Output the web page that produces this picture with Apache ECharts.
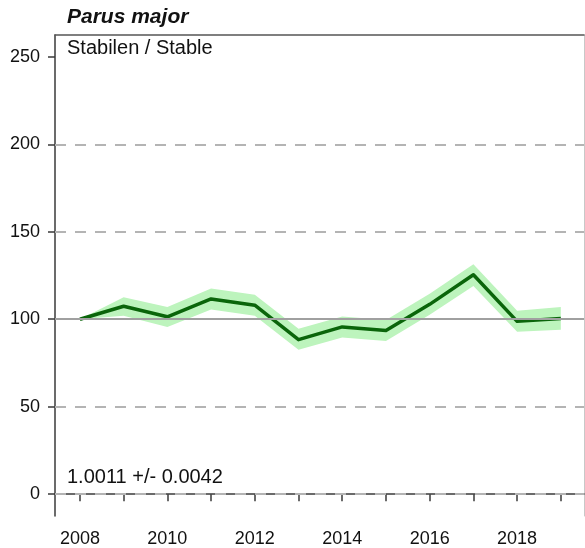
<!DOCTYPE html>
<html>
<head>
<meta charset="utf-8">
<script src="https://cdn.jsdelivr.net/npm/echarts@6/dist/echarts.min.js"></script>
<style>
html,body{margin:0;padding:0;background:#fff;}
#chart{width:585px;height:548px;}
</style>
</head>
<body>
<div id="chart"></div>
<script>
// ---- data ----
const years = [2008, 2009, 2010, 2011, 2012, 2013, 2014, 2015, 2016, 2017, 2018, 2019];
const indexValues = [100, 107.4, 101.4, 111.6, 108.0, 88.3, 95.6, 93.6, 108.5, 125.4, 98.8, 100.4];
const lowerValues = [100, 102.0, 95.5, 105.5, 102.0, 82.5, 89.5, 87.5, 102.5, 119.0, 92.8, 94.0];
const upperValues = [100, 112.5, 107.0, 117.5, 114.0, 94.5, 101.5, 99.5, 114.5, 131.5, 104.8, 107.0];
const xTickValues = [2008, 2009, 2010, 2011, 2012, 2013, 2014, 2015, 2016, 2017, 2018, 2019];
const xLabelValues = [2008, 2010, 2012, 2014, 2016, 2018];
const yTickValues = [0, 50, 100, 150, 200, 250];
const dashedLevels = [0, 50, 150, 200];
const baseLevel = 100;
const speciesTitle = 'Parus major';
const trendText = 'Stabilen / Stable';
const slopeText = '1.0011 +/- 0.0042';

const chart = echarts.init(document.getElementById('chart'), null, {renderer: 'canvas'});
const FONT = 'Liberation Sans, Arial, sans-serif';

const option = {
  animation: false,
  backgroundColor: '#fff',
  grid: {left: 55, top: 35, right: 1, bottom: 31, containLabel: false},
  xAxis: [{
    type: 'value', min: 2007.43, max: 2019.53, position: 'bottom',
    axisLine: {show: true, lineStyle: {color: '#3a3a3a', width: 1.5}},
    axisTick: {show: true, length: 7, customValues: xTickValues, lineStyle: {color: '#3a3a3a', width: 1.5}},
    axisLabel: {show: true, customValues: xLabelValues, margin: 14, color: '#111', fontSize: 18, fontFamily: FONT,
      formatter: v => String(v)},
    splitLine: {show: false}
  }, {
    type: 'value', min: 2007.43, max: 2019.53, position: 'top',
    axisLine: {show: true, onZero: false, lineStyle: {color: '#555', width: 1.5}},
    axisTick: {show: false}, axisLabel: {show: false}, splitLine: {show: false}
  }],
  yAxis: [{
    type: 'value', min: -12.5, max: 262.5, position: 'left',
    axisLine: {show: true, onZero: false, lineStyle: {color: '#3a3a3a', width: 1.5}},
    axisTick: {show: true, length: 7, customValues: yTickValues, lineStyle: {color: '#3a3a3a', width: 1.5}},
    axisLabel: {show: true, customValues: yTickValues, margin: 15, color: '#111', fontSize: 18, fontFamily: FONT},
    splitLine: {show: false}
  }, {
    type: 'value', min: -12.5, max: 262.5, position: 'right',
    axisLine: {show: true, onZero: false, lineStyle: {color: '#c8c8c8', width: 1}},
    axisTick: {show: false}, axisLabel: {show: false}, splitLine: {show: false}
  }],
  graphic: [
    {type: 'text', left: 67, top: 7, z: 100, style: {text: speciesTitle, fontSize: 21, fontWeight: 'bold', fontStyle: 'italic', fontFamily: FONT, fill: '#111'}},
    {type: 'text', left: 67, top: 38, z: 100, style: {text: trendText, fontSize: 20, fontFamily: FONT, fill: '#111'}},
    {type: 'text', left: 67, top: 467, z: 100, style: {text: slopeText, fontSize: 20, fontFamily: FONT, fill: '#111'}}
  ],
  series: [
    {
      name: 'ci', type: 'custom', z: 1, silent: true,
      data: years.map((y, i) => [y, lowerValues[i], upperValues[i]]),
      encode: {x: 0, y: [1, 2]},
      renderItem: function (params, api) {
        if (params.dataIndex !== 0) return null;
        const pts = [];
        for (let i = 0; i < years.length; i++) pts.push(api.coord([years[i], upperValues[i]]));
        for (let i = years.length - 1; i >= 0; i--) pts.push(api.coord([years[i], lowerValues[i]]));
        return {type: 'polygon', shape: {points: pts}, style: {fill: '#bdf4bd'}};
      }
    },
    {
      name: 'grid', type: 'line', z: 2, data: [], silent: true,
      markLine: {
        silent: true, symbol: ['none', 'none'], animation: false,
        label: {show: false},
        data: dashedLevels.map(v => ({yAxis: v, lineStyle: {color: '#b4b4b4', width: 2, type: [11, 9]}}))
          .concat([{yAxis: baseLevel, lineStyle: {color: '#a0a0a0', width: 2, type: 'solid'}}])
      }
    },
    {
      name: 'index', type: 'line', z: 3, silent: true,
      data: years.map((y, i) => [y, indexValues[i]]),
      symbol: 'none',
      lineStyle: {color: '#0a650a', width: 3.5, join: 'round'}
    }
  ]
};
chart.setOption(option);
</script>
</body>
</html>
